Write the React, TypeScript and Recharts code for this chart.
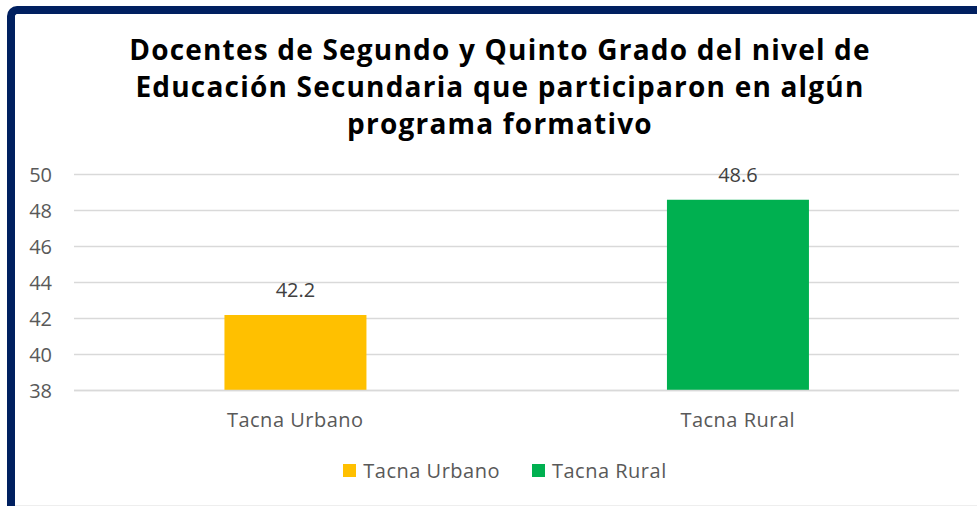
import { BarChart, Bar, Cell, XAxis, YAxis, CartesianGrid, LabelList } from 'recharts';

const categories = ['Tacna Urbano', 'Tacna Rural'];
const values = [42.2, 48.6];
const barColors = ['#FFC000', '#00B050'];
const yTicks = [38, 40, 42, 44, 46, 48, 50];
const titleLines = [
    'Docentes de Segundo y Quinto Grado del nivel de',
    'Educación Secundaria que participaron en algún',
    'programa formativo',
];

const data = categories.map((name, i) => ({ name, value: values[i] }));

const FONT = '"Open Sans", Lato, sans-serif';

export default function App() {
    return (
        <div
            style={{
                position: 'fixed',
                left: 0,
                top: 0,
                width: 977,
                height: 506,
                background: '#fff',
                overflow: 'hidden',
                fontFamily: FONT,
            }}
        >
            {/* frame */}
            <div
                style={{
                    position: 'absolute',
                    left: 7,
                    top: 6,
                    width: 1000,
                    height: 520,
                    borderLeft: '8px solid #002060',
                    borderTop: '8px solid #002060',
                    borderTopLeftRadius: 10,
                    boxSizing: 'border-box',
                }}
            />
            <div
                style={{
                    position: 'absolute',
                    left: 0,
                    top: 31,
                    width: 1000,
                    textAlign: 'center',
                    fontWeight: 700,
                    fontSize: 28,
                    letterSpacing: 1.2,
                    lineHeight: '37px',
                    color: '#000',
                }}
            >
                {titleLines.map((t) => (
                    <div key={t}>{t}</div>
                ))}
            </div>
            <div style={{ position: 'absolute', left: 0, top: 0 }}>
                <BarChart
                    width={977}
                    height={506}
                    data={data}
                    margin={{ top: 174.5, right: 18, bottom: 75.5, left: 0 }}
                    barCategoryGap="34%"
                >
                    <CartesianGrid vertical={false} stroke="#d9d9d9" strokeWidth={1.5} />
                    <XAxis
                        dataKey="name"
                        axisLine={{ stroke: '#d9d9d9', strokeWidth: 1.5 }}
                        tickLine={false}
                        tickMargin={16}
                        height={40}
                        tick={{ fill: '#595959', fontSize: 20, fontFamily: FONT, letterSpacing: 0.5 }}
                    />
                    <YAxis
                        domain={[38, 50]}
                        ticks={yTicks}
                        allowDataOverflow
                        axisLine={false}
                        tickLine={false}
                        tickMargin={16}
                        width={74}
                        tick={{ fill: '#595959', fontSize: 20, fontFamily: FONT }}
                    />
                    <Bar dataKey="value" isAnimationActive={false}>
                        {data.map((d, i) => (
                            <Cell key={d.name} fill={barColors[i]} />
                        ))}
                        <LabelList
                            dataKey="value"
                            position="top"
                            offset={18}
                            fill="#404040"
                            fontSize={20}
                            fontFamily={FONT}
                        />
                    </Bar>
                </BarChart>
            </div>
            {/* legend */}
            <div
                style={{
                    position: 'absolute',
                    left: 5,
                    top: 457,
                    width: 1000,
                    display: 'flex',
                    justifyContent: 'center',
                    gap: 32,
                    fontSize: 20,
                    letterSpacing: 0.5,
                    color: '#595959',
                }}
            >
                {categories.map((c, i) => (
                    <div key={c} style={{ display: 'flex', alignItems: 'center' }}>
                        <span
                            style={{
                                display: 'inline-block',
                                width: 13,
                                height: 13,
                                background: barColors[i],
                                marginRight: 7,
                            }}
                        />
                        {c}
                    </div>
                ))}
            </div>
            <div
                style={{
                    position: 'absolute',
                    left: 15,
                    top: 505,
                    width: 962,
                    height: 1,
                    background: '#eeeeee',
                }}
            />
        </div>
    );
}
